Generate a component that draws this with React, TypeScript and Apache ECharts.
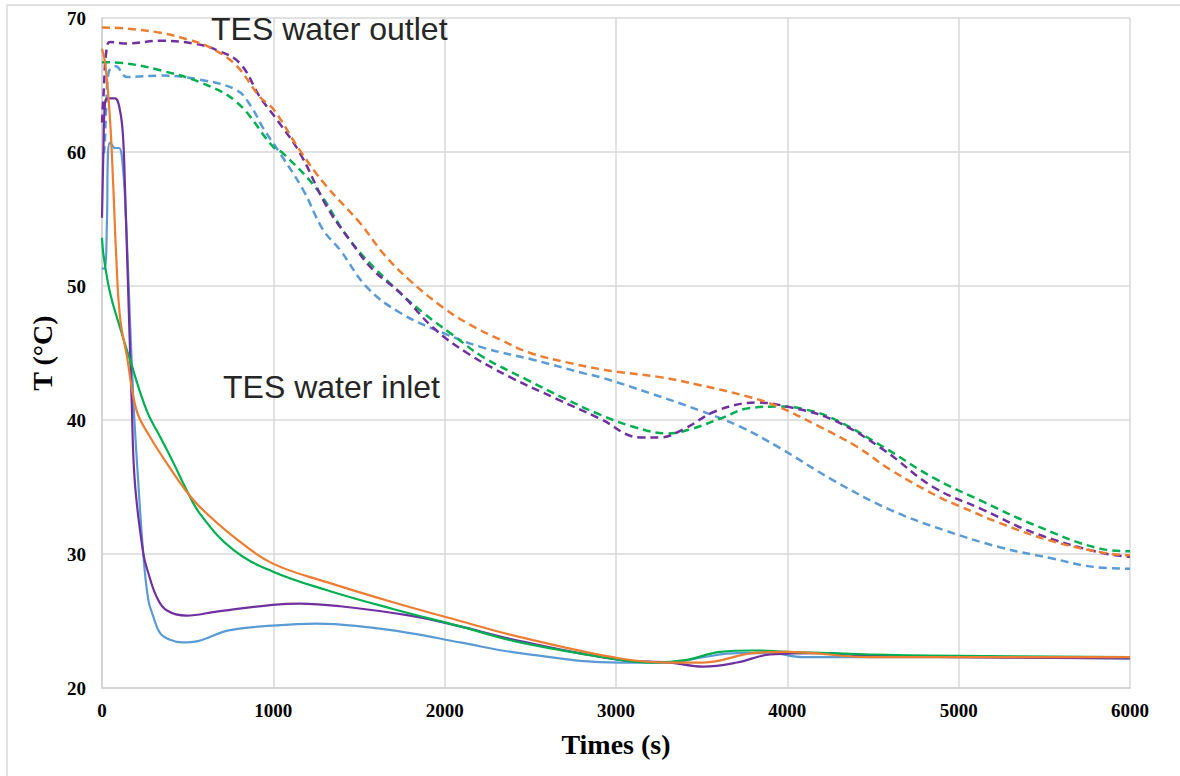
import React, { useEffect, useRef } from "react";
import * as echarts from "echarts";

// ---- tick / axis values ----
const xTicks = { min: 0, max: 6000, interval: 1000 };
const yTicks = { min: 20, max: 70, interval: 10 };
const xAxisTitle = "Times (s)";
const yAxisTitle = "T (°C)";
const outletLabel = "TES water outlet";
const inletLabel = "TES water inlet";

// ---- outlet temperatures (dashed) [time s, T °C] ----
const orangeOutlet = [
  [0, 69.3], [150, 69.2], [340, 68.9], [500, 68.4], [630, 67.8], [780, 66.5], [922, 64.1], [1000, 63.2],
  [1156, 60.1], [1300, 57.6], [1506, 54.7], [1650, 52.3], [1798, 50.4], [1990, 48.4], [2150, 47.1],
  [2323, 46.0], [2500, 45.0], [2714, 44.3], [2907, 43.8], [3006, 43.6], [3257, 43.2], [3491, 42.6],
  [3783, 41.7], [3946, 41.0], [4174, 39.6], [4407, 38.0], [4600, 36.3], [4892, 34.2], [5000, 33.6],
  [5242, 32.3], [5534, 31.0], [5843, 30.1], [6000, 29.9],
];
const purpleOutlet = [
  [0, 62.2], [10, 64.5], [25, 67.5], [47, 68.2], [146, 68.1], [339, 68.3], [531, 68.1], [671, 67.6],
  [806, 66.6], [922, 64.1], [1022, 62.4], [1156, 59.9], [1313, 55.9], [1448, 53.4], [1582, 51.2],
  [1740, 49.5], [1932, 46.9], [2131, 45.0], [2382, 43.2], [2650, 41.6], [2907, 40.1], [3141, 38.7],
  [3257, 38.7], [3392, 39.3], [3590, 40.7], [3824, 41.3], [3999, 41.0], [4268, 40.0], [4559, 37.8],
  [4851, 35.0], [5143, 33.3], [5435, 31.6], [5826, 30.1], [6000, 29.8],
];
const greenOutlet = [
  [0, 66.7], [146, 66.6], [339, 66.1], [572, 65.2], [788, 63.7], [998, 60.4], [1057, 59.9], [1255, 57.2],
  [1448, 53.4], [1681, 50.2], [1874, 48.0], [2032, 46.5], [2224, 44.7], [2481, 43.0], [2700, 41.6],
  [2907, 40.4], [3100, 39.5], [3298, 39.0], [3433, 39.3], [3608, 40.1], [3783, 40.9], [3958, 41.0],
  [4100, 40.8], [4268, 40.1], [4559, 38.0], [4851, 35.7], [5143, 33.9], [5435, 32.2], [5826, 30.4],
  [6000, 30.2],
];
const blueOutlet = [
  [0, 59.9], [12, 60.0], [25, 63.5], [40, 66.0], [80, 66.4], [146, 65.6], [339, 65.7], [572, 65.4],
  [788, 64.6], [870, 63.4], [940, 61.8], [1039, 59.9], [1173, 57.2], [1290, 54.2], [1389, 52.7],
  [1547, 49.9], [1740, 48.0], [1990, 46.5], [2224, 45.4], [2516, 44.5], [2808, 43.5], [2907, 43.2],
  [3199, 42.0], [3491, 40.7], [3725, 39.5], [3958, 37.9], [4268, 35.5], [4600, 33.3], [4910, 31.8],
  [5242, 30.5], [5534, 29.7], [5809, 29.0], [6000, 28.9],
];

// ---- inlet temperatures (solid) [time s, T °C] ----
const orangeInlet = [
  [0, 67.7], [20, 66.5], [47, 62.4], [66, 57.4], [82, 52.5], [105, 47.7], [146, 44.7], [202, 40.7],
  [280, 38.75], [377, 36.8], [485, 34.8], [572, 33.5], [767, 31.3], [995, 29.3], [1313, 27.9],
  [1698, 26.4], [2090, 25.0], [2440, 23.8], [3024, 22.2], [3316, 21.9], [3509, 21.9], [3800, 22.6],
  [3999, 22.7], [4483, 22.3], [5000, 22.3], [6000, 22.3],
];
const greenInlet = [
  [0, 53.6], [10, 52.2], [47, 49.5], [105, 46.9], [163, 44.5], [261, 40.7], [339, 38.75], [417, 36.8],
  [485, 35.0], [572, 33.0], [767, 30.3], [995, 28.7], [1313, 27.3], [1698, 25.9], [2090, 24.6],
  [2440, 23.4], [3024, 22.1], [3217, 21.9], [3415, 22.1], [3608, 22.7], [3800, 22.8], [3999, 22.7],
  [4483, 22.5], [5000, 22.4], [6000, 22.3],
];
const purpleInlet = [
  [0, 55.1], [8, 59.9], [18, 63.7], [35, 64.0], [76, 64.0], [105, 63.1], [123, 61.1], [134, 57.4],
  [146, 52.5], [173, 41.5], [192, 35.3], [241, 30.05], [270, 28.6], [319, 26.8], [377, 25.8],
  [494, 25.4], [669, 25.7], [995, 26.2], [1156, 26.3], [1390, 26.1], [1798, 25.4], [2090, 24.6],
  [2440, 23.5], [3024, 22.1], [3316, 21.9], [3509, 21.6], [3707, 21.9], [3900, 22.5], [4192, 22.6],
  [4483, 22.4], [5000, 22.3], [6000, 22.2],
];
const blueInlet = [
  [0, 51.3], [15, 51.3], [29, 54.9], [35, 59.9], [47, 60.7], [76, 60.3], [99, 60.3], [123, 58.7],
  [140, 54.9], [152, 51.2], [183, 41.5], [212, 35.3], [241, 30.0], [270, 26.6], [300, 25.3],
  [339, 24.1], [397, 23.6], [470, 23.4], [560, 23.5], [740, 24.3], [995, 24.65], [1253, 24.8],
  [1506, 24.6], [1798, 24.1], [2090, 23.4], [2440, 22.6], [3024, 21.9], [3316, 21.9], [3509, 22.3],
  [3707, 22.6], [3900, 22.6], [4093, 22.3], [4483, 22.3], [5000, 22.3], [6000, 22.2],
];

const ORANGE = "#ED7D31";
const PURPLE = "#7030A0";
const GREEN = "#00B050";
const BLUE = "#5B9BD5";

const serif = '"Liberation Serif", "Times New Roman", serif';
const sans = '"Liberation Sans", Arial, sans-serif';

function line(name: string, data: number[][], color: string, dashed: boolean) {
  return {
    name,
    type: "line",
    data,
    showSymbol: false,
    smooth: 0.4,
    lineStyle: dashed
      ? { color, width: 2.5, type: [8, 5] }
      : { color, width: 2.2 },
    itemStyle: { color },
  };
}

export default function App() {
  const ref = useRef<HTMLDivElement>(null);
  useEffect(() => {
    if (!ref.current) return;
    const chart = echarts.init(ref.current, null, { renderer: "svg" });
    chart.setOption({
      animation: false,
      backgroundColor: "#ffffff",
      grid: { left: 102, top: 18, right: 50, bottom: 88 },
      xAxis: {
        type: "value",
        min: xTicks.min,
        max: xTicks.max,
        interval: xTicks.interval,
        name: xAxisTitle,
        nameLocation: "middle",
        nameGap: 42,
        nameTextStyle: { fontFamily: serif, fontWeight: "bold", fontSize: 28, color: "#000" },
        axisLine: { show: true, lineStyle: { color: "#d0d0d0", width: 1.5 } },
        axisTick: { show: false },
        axisLabel: {
          fontFamily: serif, fontWeight: "bold", fontSize: 19, color: "#000", margin: 13,
          formatter: (v: number) => String(v),
        },
        splitLine: { show: true, lineStyle: { color: "#d9d9d9", width: 1.5 } },
      },
      yAxis: {
        type: "value",
        min: yTicks.min,
        max: yTicks.max,
        interval: yTicks.interval,
        name: yAxisTitle,
        nameLocation: "middle",
        nameGap: 42,
        nameRotate: 90,
        nameTextStyle: { fontFamily: serif, fontWeight: "bold", fontSize: 28, color: "#000" },
        axisLine: { show: true, lineStyle: { color: "#d0d0d0", width: 1.5 } },
        axisTick: { show: false },
        axisLabel: { fontFamily: serif, fontWeight: "bold", fontSize: 19, color: "#000", margin: 16 },
        splitLine: { show: true, lineStyle: { color: "#d9d9d9", width: 1.5 } },
      },
      graphic: [
        {
          type: "rect",
          shape: { x: 7, y: 5, width: 1300, height: 900 },
          style: { fill: "none", stroke: "#d9d9d9", lineWidth: 1.5 },
          silent: true,
          z: -10,
        },
        {
          type: "text",
          x: 211,
          y: 29,
          style: { text: outletLabel, fontFamily: sans, fontSize: 32, fill: "#262626", verticalAlign: "middle", align: "left" },
          z: 100,
        },
        {
          type: "text",
          x: 223,
          y: 387,
          style: { text: inletLabel, fontFamily: sans, fontSize: 32, fill: "#262626", verticalAlign: "middle", align: "left" },
          z: 100,
        },
      ],
      series: [
        line("Blue outlet", blueOutlet, BLUE, true),
        line("Green outlet", greenOutlet, GREEN, true),
        line("Purple outlet", purpleOutlet, PURPLE, true),
        line("Orange outlet", orangeOutlet, ORANGE, true),
        line("Blue inlet", blueInlet, BLUE, false),
        line("Purple inlet", purpleInlet, PURPLE, false),
        line("Green inlet", greenInlet, GREEN, false),
        line("Orange inlet", orangeInlet, ORANGE, false),
      ],
    });
    return () => chart.dispose();
  }, []);
  return (
    <div
      ref={ref}
      style={{ position: "fixed", left: 0, top: 0, width: 1180, height: 776, background: "#fff" }}
    />
  );
}
